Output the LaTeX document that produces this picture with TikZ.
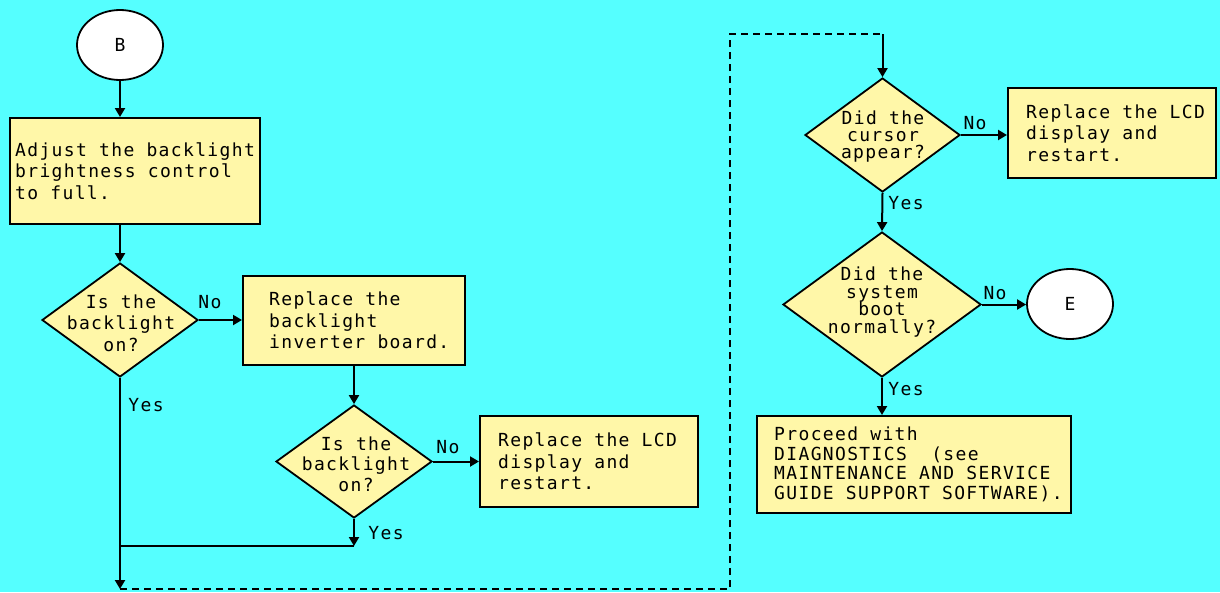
\documentclass[tikz,border=0pt]{standalone}
\usepackage{fontspec}
\setmonofont[LetterSpace=7.5]{DejaVu Sans Mono}
\usetikzlibrary{shapes.geometric,arrows.meta}
\definecolor{bg}{RGB}{85,255,255}
\definecolor{boxfill}{RGB}{255,247,168}
\tikzset{
  flow/.style={line width=2pt, draw=black},
  arrowline/.style={flow, -{Triangle[width=10pt,length=9pt]}},
  dashline/.style={line width=2pt, dash pattern=on 7pt off 5pt},
  stepbox/.style={draw, line width=2pt, fill=boxfill, rectangle, inner sep=0pt},
  decision/.style={draw, line width=1.8pt, fill=boxfill, diamond, inner sep=0pt},
  terminal/.style={draw, line width=1.8pt, fill=white, ellipse, inner sep=0pt,
    minimum width=86pt, minimum height=70pt, font=\ttfamily\fontsize{18}{21}\selectfont},
  txt/.style={inner sep=0pt, align=left, font=\ttfamily\fontsize{18}{21.5}\selectfont},
  ctxt/.style={inner sep=0pt, align=center, font=\ttfamily\fontsize{18}{21}\selectfont},
  lbl/.style={inner sep=0pt, font=\ttfamily\fontsize{18}{21}\selectfont},
}
\begin{document}
\begin{tikzpicture}[x=1pt,y=-1pt]
  \fill[bg] (0,0) rectangle (1220,592);
  \useasboundingbox (0,0) rectangle (1220,592);

  % left column
  \node[terminal] (B) at (120,45) {B};
  \node[stepbox, minimum width=250pt, minimum height=106pt] (adj) at (135,171) {};
  \node[txt, anchor=west] (adjt) at ([xshift=6pt]adj.west) {Adjust the backlight\\brightness control\\to full.};

  \node[decision, minimum width=156pt, minimum height=114pt] (d1) at (120,320) {};
  \node[ctxt, font=\ttfamily\fontsize{18}{21.5}\selectfont] (d1t) at (121,323) {Is the\\backlight\\on?};

  \node[stepbox, minimum width=222pt, minimum height=89pt] (inv) at (354,320.5) {};
  \node[txt, anchor=west] (invt) at ([xshift=27pt]inv.west) {Replace the\\backlight\\inverter board.};

  \node[decision, minimum width=156pt, minimum height=113pt] (d2) at (354,461.5) {};
  \node[ctxt, font=\ttfamily\fontsize{18}{20.5}\selectfont] (d2t) at (356,464) {Is the\\backlight\\on?};

  \node[stepbox, minimum width=218pt, minimum height=91pt] (lcd1) at (589,461.5) {};
  \node[txt, anchor=west] (lcd1t) at ([xshift=19pt]lcd1.west) {Replace the LCD\\display and\\restart.};

  % right column
  \node[decision, minimum width=155pt, minimum height=114pt] (d3) at (882.5,135) {};
  \node[ctxt, font=\ttfamily\fontsize{18}{17}\selectfont] (d3t) at (883,137) {Did the\\cursor\\appear?};

  \node[stepbox, minimum width=208pt, minimum height=90pt] (lcd2) at (1112,133) {};
  \node[txt, anchor=west] (lcd2t) at ([xshift=19pt]lcd2.west) {Replace the LCD\\display and\\restart.};

  \node[decision, minimum width=198pt, minimum height=145pt] (d4) at (882,304.5) {};
  \node[ctxt, font=\ttfamily\fontsize{18}{17.7}\selectfont] (d4t) at (882,302) {Did the\\system\\boot\\normally?};

  \node[terminal] (E) at (1070,304) {E};

  \node[stepbox, minimum width=314pt, minimum height=97pt] (diag) at (914,464.5) {};
  \node[txt, anchor=west, font=\ttfamily\fontsize{18}{19.5}\selectfont] (diagt) at ([xshift=18pt]diag.west) {Proceed with\\DIAGNOSTICS\ \ (see\\MAINTENANCE AND SERVICE\\GUIDE SUPPORT SOFTWARE).};

  % routing points
  \coordinate (j2) at (354,546);
  \coordinate (bl) at (120,589);
  \coordinate (br) at (730,589);
  \coordinate (tr) at (730,34);
  \coordinate (top) at (882.5,34);

  % connectors, kept straight by projecting onto the source axis
  \draw[arrowline] (B.south) -- (B.south |- adj.north);
  \draw[arrowline] (d1.north |- adj.south) -- (d1.north);
  \draw[arrowline] (d1.east) -- (d1.east -| inv.west);
  \draw[arrowline] (inv.south) -- (d2.north);
  \draw[arrowline] (d2.east) -- (d2.east -| lcd1.west);
  \draw[arrowline] (d2.south) -- (j2);
  \draw[flow] (j2) -- (j2 -| d1.south);
  \draw[arrowline] (d1.south) -- (bl);
  \draw[dashline] (bl) -- (br) -- (tr) -- (top);
  \draw[arrowline] (top) -- (d3.north);
  \draw[arrowline] (d3.east) -- (d3.east -| lcd2.west);
  \draw[arrowline] (d3.south) -- (d4.north);
  \draw[arrowline] (d4.east) -- (d4.east -| E.west);
  \draw[arrowline] (d4.south) -- (d4.south |- diag.north);

  % branch labels
  \node[lbl] (no1) at (210,302) {No};
  \node[lbl] (yes1) at (146,405) {Yes};
  \node[lbl] (no2) at (448,447) {No};
  \node[lbl] (yes2) at (386,533) {Yes};
  \node[lbl] (no3) at (975,123) {No};
  \node[lbl] (yes3) at (906,203) {Yes};
  \node[lbl] (no4) at (995,293) {No};
  \node[lbl] (yes4) at (906,389) {Yes};
\end{tikzpicture}
\end{document}
